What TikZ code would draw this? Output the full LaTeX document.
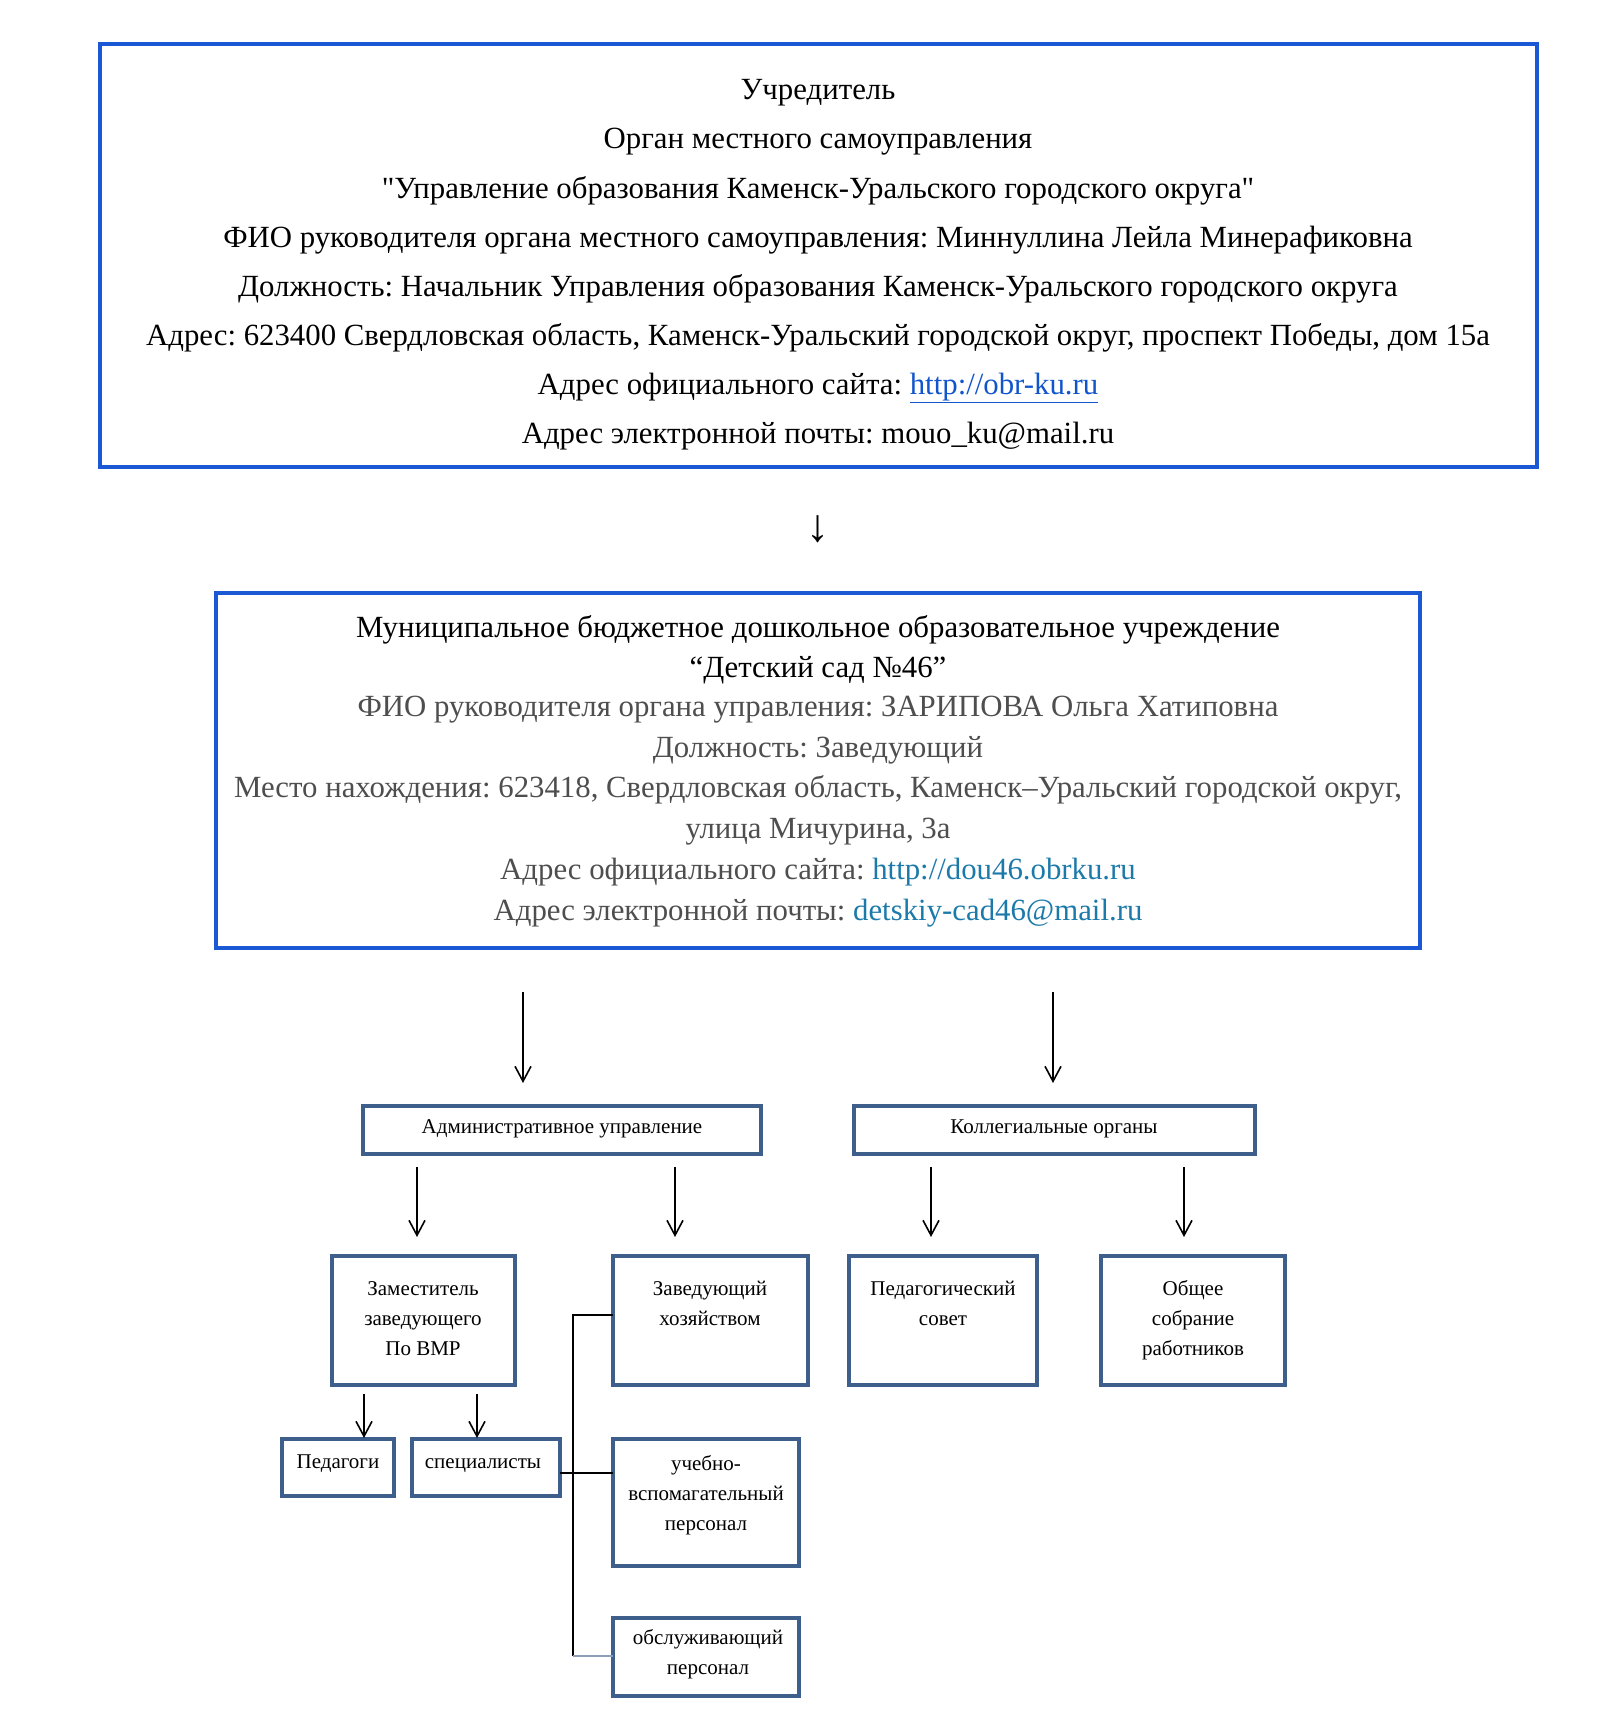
\documentclass[tikz,border=0pt]{standalone}
\usepackage{fontspec}
\setmainfont{Liberation Serif}[Ligatures=TeXOff]
\usetikzlibrary{arrows.meta,calc}
\definecolor{topblue}{RGB}{26,88,212}
\definecolor{steel}{RGB}{62,94,140}
\definecolor{txtgray}{RGB}{78,78,78}
\definecolor{linkblue}{RGB}{17,85,204}
\definecolor{linkteal}{RGB}{28,122,170}
\frenchspacing
\begin{document}
\begin{tikzpicture}[x=1pt,y=-1pt,
  bigbox/.style={draw=topblue, line width=4pt, anchor=north west, inner sep=0, outer sep=0},
  smallbox/.style={draw=steel, line width=4pt, anchor=north west, inner sep=0, outer sep=0},
  bigtxt/.style={anchor=base, inner sep=0, font=\fontsize{30.8}{49}\selectfont},
  midtxt/.style={anchor=base, inner sep=0, font=\fontsize{30.8}{40}\selectfont},
  smalltxt/.style={anchor=base, inner sep=0, align=center, font=\fontsize{21}{30}\selectfont},
  arr/.style={line width=1.6pt, -{Straight Barb[length=15pt,width=16pt,line width=1.6pt]}},
  conn/.style={line width=1.4pt},
]
\useasboundingbox (0,0) rectangle (1624,1715);

% ---------- top box ----------
\node[bigbox, minimum width=1437, minimum height=423] (top) at (100,44) {};
\node[bigtxt] (t1) at (818,100) {Учредитель};
\node[bigtxt] (t2) at (818,149) {Орган местного самоуправления};
\node[bigtxt] (t3) at (818,198) {"Управление образования Каменск-Уральского городского округа"};
\node[bigtxt] (t4) at (818,247) {ФИО руководителя органа местного самоуправления: Миннуллина Лейла Минерафиковна};
\node[bigtxt] (t5) at (818,296) {Должность: Начальник Управления образования Каменск-Уральского городского округа};
\node[bigtxt] (t6) at (818,345) {Адрес: 623400 Свердловская область, Каменск-Уральский городской округ, проспект Победы, дом 15а};
\node[bigtxt] (t7) at (818,394) {Адрес официального сайта: \textcolor{linkblue}{\underline{http://obr-ku.ru}}};
\node[bigtxt] (t8) at (818,443) {Адрес электронной почты: mouo\_ku@mail.ru};

\node[inner sep=0, font=\fontsize{46}{50}\selectfont] (down) at (818,529) {↓};

% ---------- second box ----------
\node[bigbox, minimum width=1204, minimum height=355] (box2) at (216,593) {};
\node[midtxt] (s1) at (818,637) {Муниципальное бюджетное дошкольное образовательное учреждение};
\node[midtxt] (s2) at (818,677) {“Детский сад №46”};
\node[midtxt, text=txtgray] (s3) at (818,716) {ФИО руководителя органа управления: ЗАРИПОВА Ольга Хатиповна};
\node[midtxt, text=txtgray] (s4) at (818,757) {Должность: Заведующий};
\node[midtxt, text=txtgray] (s5) at (818,797) {Место нахождения: 623418, Свердловская область, Каменск–Уральский городской округ,};
\node[midtxt, text=txtgray] (s6) at (818,838) {улица Мичурина, 3а};
\node[midtxt, text=txtgray] (s7) at (818,879) {Адрес официального сайта: \textcolor{linkteal}{http://dou46.obrku.ru}};
\node[midtxt, text=txtgray] (s8) at (818,920) {Адрес электронной почты: \textcolor{linkteal}{detskiy-cad46@mail.ru}};

% ---------- level 1 ----------
\node[smallbox, minimum width=398, minimum height=48] (adm) at (363,1106) {};
\node[smalltxt] (admt) at (562,1133) {Административное управление};
\node[smallbox, minimum width=401, minimum height=48] (koll) at (854,1106) {};
\node[smalltxt] (kollt) at (1054,1133) {Коллегиальные органы};

% ---------- level 2 (anchor = baseline of the last line) ----------
\node[smallbox, minimum width=183, minimum height=129] (zam) at (332,1256) {};
\node[smalltxt] (zamt) at (423,1355) {Заместитель\\заведующего\\По ВМР};
\node[smallbox, minimum width=195, minimum height=129] (zav) at (613,1256) {};
\node[smalltxt] (zavt) at (710,1325) {Заведующий\\хозяйством};
\node[smallbox, minimum width=188, minimum height=129] (psov) at (849,1256) {};
\node[smalltxt] (psovt) at (943,1325) {Педагогический\\совет};
\node[smallbox, minimum width=184, minimum height=129] (obsh) at (1101,1256) {};
\node[smalltxt] (obsht) at (1193,1355) {Общее\\собрание\\работников};

% ---------- level 3 ----------
\node[smallbox, minimum width=112, minimum height=57] (ped) at (282,1439) {};
\node[smalltxt] (pedt) at (338,1468) {Педагоги};
\node[smallbox, minimum width=148, minimum height=57] (spec) at (412,1439) {};
\node[smalltxt] (spect) at (483,1468) {специалисты};
\node[smallbox, minimum width=186, minimum height=127] (ucheb) at (613,1439) {};
\node[smalltxt] (uchebt) at (706,1530) {учебно-\\вспомагательный\\персонал};
\node[smallbox, minimum width=186, minimum height=78] (obsl) at (613,1618) {};
\node[smalltxt] (obslt) at (708,1674) {обслуживающий\\персонал};

% ---------- arrows ----------
\coordinate (cA) at (523,0);
\coordinate (cB) at (1053,0);
\draw[arr, shorten <=44pt, shorten >=23pt] (box2.south -| cA) -- (adm.north -| cA);
\draw[arr, shorten <=44pt, shorten >=23pt] (box2.south -| cB) -- (koll.north -| cB);

\coordinate (c1) at (417,0);
\coordinate (c2) at (675,0);
\coordinate (c3) at (931,0);
\coordinate (c4) at (1184,0);
\draw[arr, shorten <=13pt, shorten >=19pt] (adm.south -| c1) -- (zam.north -| c1);
\draw[arr, shorten <=13pt, shorten >=19pt] (adm.south -| c2) -- (zav.north -| c2);
\draw[arr, shorten <=13pt, shorten >=19pt] (koll.south -| c3) -- (psov.north -| c3);
\draw[arr, line width=2pt, shorten <=13pt, shorten >=19pt] (koll.south -| c4) -- (obsh.north -| c4);

\coordinate (d1) at (364,0);
\coordinate (d2) at (477,0);
\draw[arr, shorten <=9pt, shorten >=1pt] (zam.south -| d1) -- (ped.north -| d1);
\draw[arr, line width=2pt, shorten <=9pt, shorten >=1pt] (zam.south -| d2) -- (spec.north -| d2);

% ---------- bracket connector ----------
\coordinate (v1) at (573,1315);
\coordinate (v2) at (573,1656);
\coordinate (h1) at (0,1473);
\draw[conn] (zav.west |- v1) -- (v1) -- (v2);
\draw[conn, draw=steel!60] (v2) -- (obsl.west |- v2);
\draw[line width=2.2pt] (spec.east |- h1) -- (ucheb.west |- h1);
\end{tikzpicture}
\end{document}
